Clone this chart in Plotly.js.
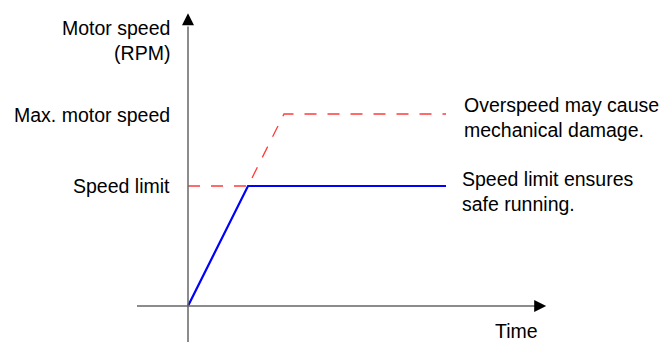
<!DOCTYPE html>
<html>
<head>
<meta charset="utf-8">
<script src="https://cdn.plot.ly/plotly-3.0.1.min.js"></script>
<style>html,body{margin:0;padding:0;background:#fff;}#chart{width:665px;height:342px;}</style>
</head>
<body>
<div id="chart"></div>
<script>
// Data (arbitrary units: time, speed normalised to speed limit = 1)
const limitTime = [0, 1, 4.3];
const limitSpeed = [0, 1, 1];
const overTime = [0, 1, 1.6, 4.3];
const overSpeed = [1, 1, 1.6, 1.6];
const speedLimitValue = 1;
const maxSpeedValue = 1.6;
const yAxisLabel = 'Motor speed<br>(RPM)';
const xAxisLabel = 'Time';
const levelLabels = ['Max. motor speed', 'Speed limit'];
const noteLabels = ['Overspeed may cause<br>mechanical damage.', 'Speed limit ensures<br>safe running.'];

const FONT = 'Liberation Sans, Arial, sans-serif';
const fs = 19.5;

const traces = [
  {x: overTime, y: overSpeed, mode: 'lines', line: {color: '#ff3b3b', width: 1.3, dash: '12px,11px'}, hoverinfo: 'skip'},
  {x: limitTime, y: limitSpeed, mode: 'lines', line: {color: '#0000ff', width: 2.2}, hoverinfo: 'skip'}
];

const axisColor = '#666666';
const layout = {
  width: 665, height: 342,
  margin: {l: 0, r: 0, t: 0, b: 0},
  paper_bgcolor: '#ffffff', plot_bgcolor: '#ffffff',
  showlegend: false,
  font: {family: FONT, size: fs, color: '#000'},
  xaxis: {range: [-188/60, (665-188)/60], visible: false, fixedrange: true},
  yaxis: {range: [-36/120, 306/120], visible: false, fixedrange: true},
  shapes: [
    {type: 'line', xref: 'x', yref: 'y', x0: -0.85, y0: 0, x1: 5.85, y1: 0, line: {color: axisColor, width: 1.5}},
    {type: 'line', xref: 'x', yref: 'y', x0: 0, y0: -0.32, x1: 0, y1: 2.33, line: {color: axisColor, width: 1.5}}
  ],
  annotations: [
    {x: 5.97, y: 0, xref: 'x', yref: 'y', ax: -12, ay: 0, text: '', showarrow: true, arrowhead: 2, arrowsize: 1.6, arrowwidth: 1.5, arrowcolor: '#000'},
    {x: 0, y: 2.44, xref: 'x', yref: 'y', ax: 0, ay: 12, text: '', showarrow: true, arrowhead: 2, arrowsize: 1.6, arrowwidth: 1.5, arrowcolor: '#000'},
    {x: -0.27, y: 2.21, xref: 'x', yref: 'y', xanchor: 'right', yanchor: 'middle', align: 'right', text: yAxisLabel, showarrow: false},
    {x: -0.27, y: maxSpeedValue - 0.01, xref: 'x', yref: 'y', xanchor: 'right', yanchor: 'middle', text: levelLabels[0], showarrow: false},
    {x: -0.27, y: speedLimitValue, xref: 'x', yref: 'y', xanchor: 'right', yanchor: 'middle', text: levelLabels[1], showarrow: false},
    {x: 4.565, y: 1.575, xref: 'x', yref: 'y', xanchor: 'left', yanchor: 'middle', align: 'left', text: noteLabels[0], showarrow: false},
    {x: 4.535, y: 0.955, xref: 'x', yref: 'y', xanchor: 'left', yanchor: 'middle', align: 'left', text: noteLabels[1], showarrow: false},
    {x: 5.48, y: -0.205, xref: 'x', yref: 'y', xanchor: 'center', yanchor: 'middle', text: xAxisLabel, showarrow: false}
  ]
};

Plotly.newPlot('chart', traces, layout, {staticPlot: true, displayModeBar: false});
</script>
</body>
</html>
